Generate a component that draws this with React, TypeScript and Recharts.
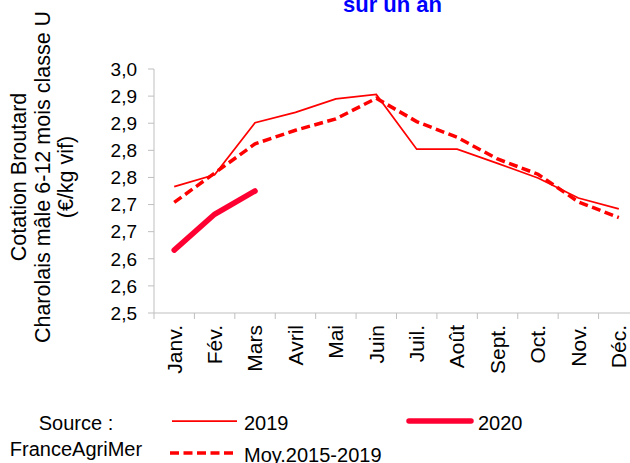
import React from 'react';
import { LineChart, Line, XAxis, YAxis } from 'recharts';

const months = ['Janv.', 'Fév.', 'Mars', 'Avril', 'Mai', 'Juin', 'Juil.', 'Août', 'Sept.', 'Oct.', 'Nov.', 'Déc.'];
const values2019 = [2.733, 2.755, 2.851, 2.87, 2.895, 2.903, 2.802, 2.802, 2.776, 2.749, 2.712, 2.692];
const values2020: (number | null)[] = [2.616, 2.682, 2.725, null, null, null, null, null, null, null, null, null];
const valuesMoy = [2.704, 2.758, 2.812, 2.837, 2.858, 2.896, 2.853, 2.824, 2.784, 2.756, 2.705, 2.676];
const yTicks = [2.5, 2.55, 2.6, 2.65, 2.7, 2.75, 2.8, 2.85, 2.9, 2.95];
const yTickLabels = ['2,5', '2,6', '2,6', '2,7', '2,7', '2,8', '2,8', '2,9', '2,9', '3,0'];
const yTitleLines = ['Cotation Broutard', 'Charolais mâle 6-12 mois classe U', '(€/kg vif)'];
const titleText = 'sur un an';
const sourceLines = ['Source :', 'FranceAgriMer'];
const seriesNames = ['2019', '2020', 'Moy.2015-2019'];

const data = months.map((m, i) => ({
  month: m,
  y2019: values2019[i],
  y2020: values2020[i],
  moy: valuesMoy[i],
}));

const CHART_W = 650;
const CHART_H = 463;
const MARGIN = { top: 69, right: 11, bottom: 0, left: 0 };
const YAXIS_W = 154;
const PLOT_W = CHART_W - YAXIS_W - MARGIN.left - MARGIN.right;
const HALF_STEP = PLOT_W / months.length / 2;
const AXIS_GRAY = '#BFBFBF';
const FONT = "'Liberation Sans', Arial, sans-serif";

const XTick = (props: any) => {
  const { x, y, payload } = props;
  return (
    <g>
      <line x1={x - HALF_STEP} x2={x - HALF_STEP} y1={y - 12} y2={y - 6} stroke={AXIS_GRAY} strokeWidth={1} />
      <text
        x={0}
        y={0}
        dy="0.35em"
        textAnchor="end"
        transform={`translate(${x},${y}) rotate(-90)`}
        fill="#000"
        fontSize={21}
        fontFamily={FONT}
      >
        {payload.value}
      </text>
    </g>
  );
};

export default function App() {
  return (
    <div style={{ position: 'absolute', left: 0, top: 0, width: 630, height: 463, overflow: 'hidden', background: '#fff', fontFamily: FONT }}>
      <LineChart width={CHART_W} height={CHART_H} data={data} margin={MARGIN}>
        <XAxis
          dataKey="month"
          height={150}
          padding={{ left: HALF_STEP, right: HALF_STEP }}
          tickLine={false}
          tickSize={6}
          tickMargin={6}
          interval={0}
          axisLine={{ stroke: AXIS_GRAY, strokeWidth: 1 }}
          tick={<XTick />}
        />
        <YAxis
          width={YAXIS_W}
          domain={[2.5, 2.95]}
          ticks={yTicks}
          interval={0}
          tickSize={6}
          tickMargin={11}
          axisLine={{ stroke: AXIS_GRAY, strokeWidth: 1 }}
          tickLine={{ stroke: AXIS_GRAY, strokeWidth: 1 }}
          tick={{ fill: '#000', fontSize: 19, fontFamily: FONT }}
          tickFormatter={(_v: number, i: number) => yTickLabels[i]}
        />
        <Line type="linear" dataKey="moy" stroke="#FF0000" strokeWidth={3.5} strokeDasharray="9 4.5" dot={false} activeDot={false} isAnimationActive={false} />
        <Line type="linear" dataKey="y2019" stroke="#FF0000" strokeWidth={1.75} dot={false} activeDot={false} isAnimationActive={false} />
        <Line type="linear" dataKey="y2020" stroke="#FF0033" strokeWidth={5.5} strokeLinecap="round" dot={false} activeDot={false} isAnimationActive={false} />
      </LineChart>
      <svg width={630} height={463} style={{ position: 'absolute', left: 0, top: 0, pointerEvents: 'none' }}>
        <text x={343} y={11.5} fill="#0000FF" fontSize={22} fontWeight="bold" fontFamily={FONT}>{titleText}</text>
        {yTitleLines.map((t, i) => (
          <text
            key={t}
            x={0}
            y={0}
            textAnchor="middle"
            transform={`translate(${26 + i * 23.5},177) rotate(-90)`}
            fontSize={21.5}
            fill="#000"
            fontFamily={FONT}
          >
            {t}
          </text>
        ))}
        <text x={76} y={430} textAnchor="middle" fontSize={20} fill="#000" fontFamily={FONT}>{sourceLines[0]}</text>
        <text x={76} y={456} textAnchor="middle" fontSize={20} fill="#000" fontFamily={FONT}>{sourceLines[1]}</text>
        <line x1={172} x2={237} y1={421} y2={421} stroke="#FF0000" strokeWidth={1.75} />
        <text x={244} y={430} fontSize={20} fill="#000" fontFamily={FONT}>{seriesNames[0]}</text>
        <line x1={409} x2={471} y1={421} y2={421} stroke="#FF0033" strokeWidth={5.5} strokeLinecap="round" />
        <text x={478} y={430} fontSize={20} fill="#000" fontFamily={FONT}>{seriesNames[1]}</text>
        <line x1={170} x2={236} y1={453} y2={453} stroke="#FF0000" strokeWidth={3.5} strokeDasharray="9 4.5" />
        <text x={244} y={462} fontSize={20} fill="#000" fontFamily={FONT}>{seriesNames[2]}</text>
      </svg>
    </div>
  );
}
